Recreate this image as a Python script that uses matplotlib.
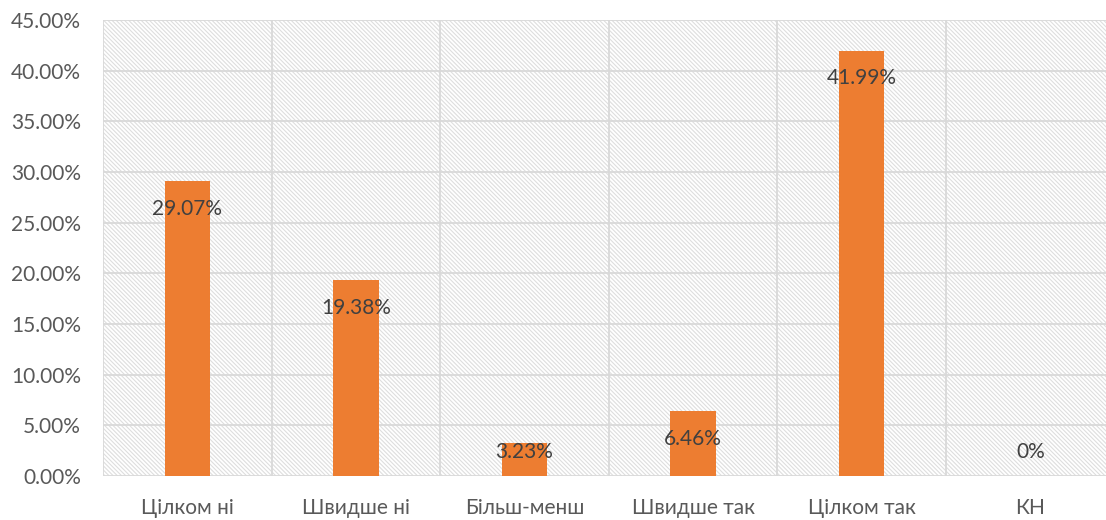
import matplotlib
matplotlib.use("Agg")
import matplotlib.pyplot as plt
from matplotlib.ticker import MultipleLocator, FuncFormatter

categories = ["Цілком ні", "Швидше ні", "Більш-менш", "Швидше так", "Цілком так", "КН"]
values = [29.07, 19.38, 3.23, 6.46, 41.99, 0.0]
value_labels = ["29.07%", "19.38%", "3.23%", "6.46%", "41.99%", "0%"]

plt.rcParams['font.family'] = ['Lato', 'DejaVu Sans']
plt.rcParams['hatch.color'] = '#dedede'
plt.rcParams['hatch.linewidth'] = 0.8

fig = plt.figure(figsize=(11.06, 5.2), dpi=100)
ax = fig.add_axes([103/1106, 1-476/520, (1114.6-103)/1106, (476-20)/520])

ax.patch.set_facecolor('white')
ax.patch.set_hatch('\\\\\\\\\\\\\\\\')
ax.patch.set_edgecolor('#dedede')

x = list(range(len(categories)))
ax.bar(x, values, width=0.27, color='#ED7D31', zorder=3)

ax.set_xlim(-0.5, len(categories) - 0.5)
ax.set_ylim(0, 45)
ax.yaxis.set_major_locator(MultipleLocator(5))
ax.yaxis.set_major_formatter(FuncFormatter(lambda v, p: f"{v:.2f}%"))
ax.set_xticks(x)
ax.set_xticklabels(categories)
ax.set_xticks([i + 0.5 for i in range(-1, len(categories))], minor=True)

ax.grid(True, which='major', axis='y', color='#d9d9d9', linewidth=1.3, zorder=1)
ax.grid(True, which='minor', axis='x', color='#d9d9d9', linewidth=1.3, zorder=1)
for s in ax.spines.values():
    s.set_visible(False)
ax.tick_params(which='both', length=0)
ax.tick_params(axis='x', labelsize=15, colors='#595959', pad=16)
ax.tick_params(axis='y', labelsize=15, colors='#595959', pad=16)

for xi, v, lab in zip(x, values, value_labels):
    y = max(v - 2.76, 2.4)
    ax.text(xi, y, lab, ha='center', va='center', fontsize=15, color='#404040', zorder=4)

fig.savefig("out.png", dpi=100)
